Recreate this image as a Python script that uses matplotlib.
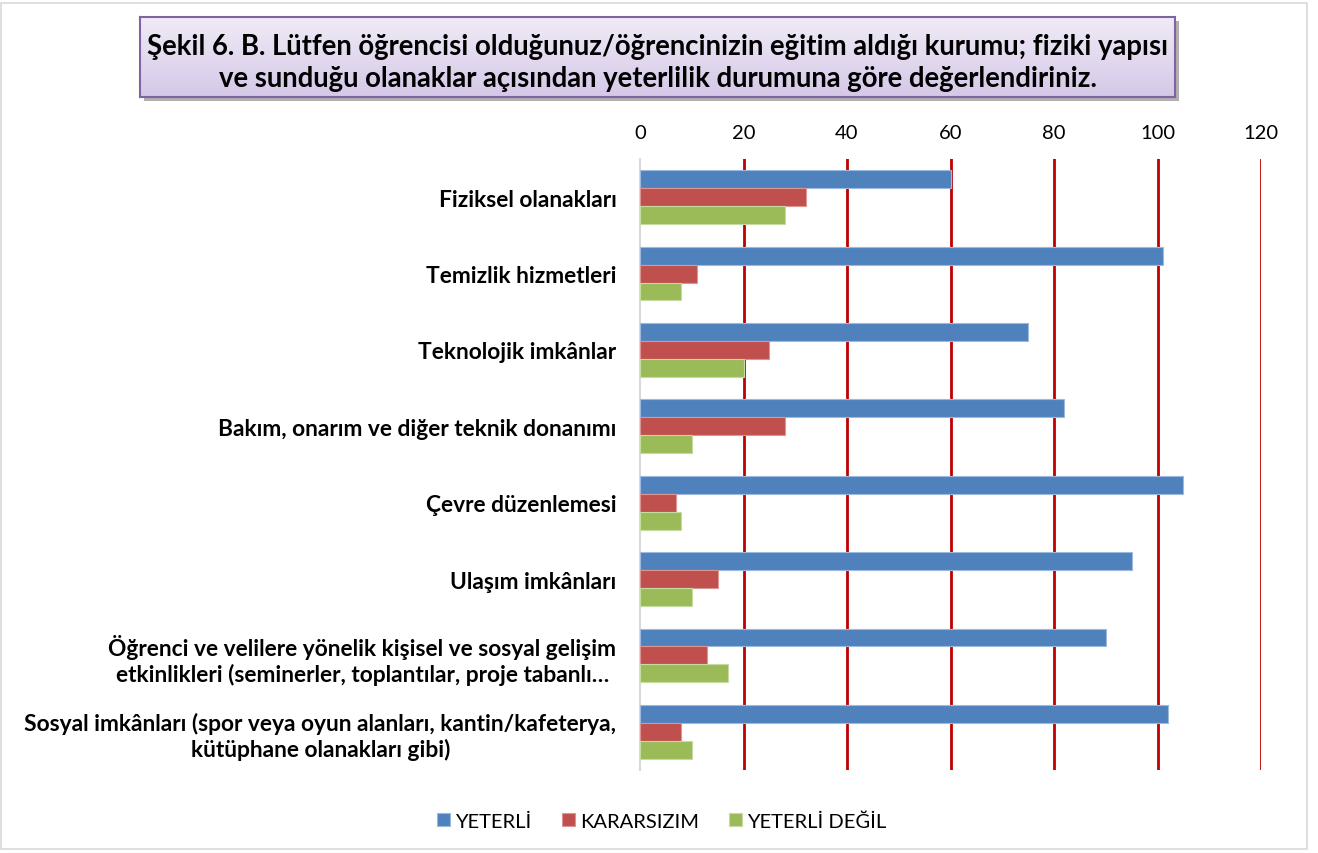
import matplotlib
matplotlib.use("Agg")
import matplotlib.pyplot as plt
import numpy as np
from matplotlib.patches import Rectangle

plt.rcParams['font.family'] = ['Lato', 'DejaVu Sans']

categories = [
    'Fiziksel olanakları',
    'Temizlik hizmetleri',
    'Teknolojik imkânlar',
    'Bakım, onarım ve diğer teknik donanımı',
    'Çevre düzenlemesi',
    'Ulaşım imkânları',
    'Öğrenci ve velilere yönelik kişisel ve sosyal gelişim\netkinlikleri (seminerler, toplantılar, proje tabanlı…',
    'Sosyal imkânları (spor veya oyun alanları, kantin/kafeterya,\nkütüphane olanakları gibi)',
]
yeterli = [60, 101, 75, 82, 105, 95, 90, 102]
kararsizim = [32, 11, 25, 28, 7, 15, 13, 8]
yeterli_degil = [28, 8, 20, 10, 8, 10, 17, 10]
series_names = ['YETERLİ', 'KARARSIZIM', 'YETERLİ DEĞİL']
colors = ['#4F81BD', '#C0504D', '#9BBB59']
edges = ['#9DB9DD', '#DB9593', '#C6DBA0']
xticks = [0, 20, 40, 60, 80, 100, 120]

title = ('Şekil 6. B. Lütfen öğrencisi olduğunuz/öğrencinizin eğitim aldığı kurumu; fiziki yapısı\n'
         've sunduğu olanaklar açısından yeterlilik durumuna göre değerlendiriniz.')

W, H = 1318, 854
fig = plt.figure(figsize=(W / 100, H / 100), dpi=100)

# outer chart border
fig.patches.append(Rectangle((1 / W, 4 / H), 1306 / W, 846 / H, transform=fig.transFigure,
                             fill=False, edgecolor='#D9D9D9', lw=1.2, zorder=-2))

ax = fig.add_axes([640 / W, 1 - 771 / H, 621 / W, 611 / H])

y = np.arange(len(categories))
h = 0.235
for k, vals in enumerate([yeterli, kararsizim, yeterli_degil]):
    ax.barh(y + (k - 1) * h, vals, height=h, color=colors[k], edgecolor=edges[k],
            lw=0.8, label=series_names[k], zorder=3)

ax.set_xlim(0, 120)
ax.set_ylim(len(categories) - 0.5, -0.5)
ax.set_xticks(xticks)
ax.set_xticklabels([str(t) for t in xticks])
ax.xaxis.tick_top()
ax.tick_params(axis='x', length=0, pad=13, labelsize=14.5, colors='#000000')
ax.set_yticks(y)
ax.set_yticklabels(categories, fontweight='bold', fontsize=16.4, multialignment='center',
                   linespacing=1.25)
ax.tick_params(axis='y', length=0, pad=17)
for t in xticks[1:]:
    ax.axvline(t, color='#C00000', lw=2, zorder=2)
for s in ['top', 'right', 'bottom']:
    ax.spines[s].set_visible(False)
ax.spines['left'].set_color('#D9D9D9')
ax.spines['left'].set_linewidth(1.5)

# title box with gradient and shadow
tx0, ty0, tw, th = 140, 18, 1035, 80
fig.patches.append(Rectangle(((tx0 + 4) / W, 1 - (ty0 + th + 4) / H), tw / W, th / H,
                             transform=fig.transFigure, facecolor='#B0B0B0',
                             edgecolor='none', zorder=-1))
tax = fig.add_axes([tx0 / W, 1 - (ty0 + th) / H, tw / W, th / H])
tax.set_zorder(5)
grad = np.linspace(0, 1, 100).reshape(-1, 1)
c_top = np.array([0xF0, 0xEB, 0xF6]) / 255
c_bot = np.array([0xD5, 0xC8, 0xE8]) / 255
img = c_top[None, None, :] * (1 - grad[:, :, None]) + c_bot[None, None, :] * grad[:, :, None]
tax.imshow(img, aspect='auto', extent=[0, 1, 0, 1])
tax.set_xticks([])
tax.set_yticks([])
for s in tax.spines.values():
    s.set_color('#8064A2')
    s.set_linewidth(1.5)
tax.text(0.5, 0.44, title, ha='center', va='center', fontsize=19.8, fontweight='bold',
         linespacing=1.3, transform=tax.transAxes)

fig.legend(loc='center', bbox_to_anchor=(662 / W, 1 - 822 / H), ncol=3, frameon=False,
           fontsize=14.5, handlelength=0.65, handleheight=0.65, handletextpad=0.25,
           columnspacing=1.5)

fig.savefig('out.png', dpi=100)
